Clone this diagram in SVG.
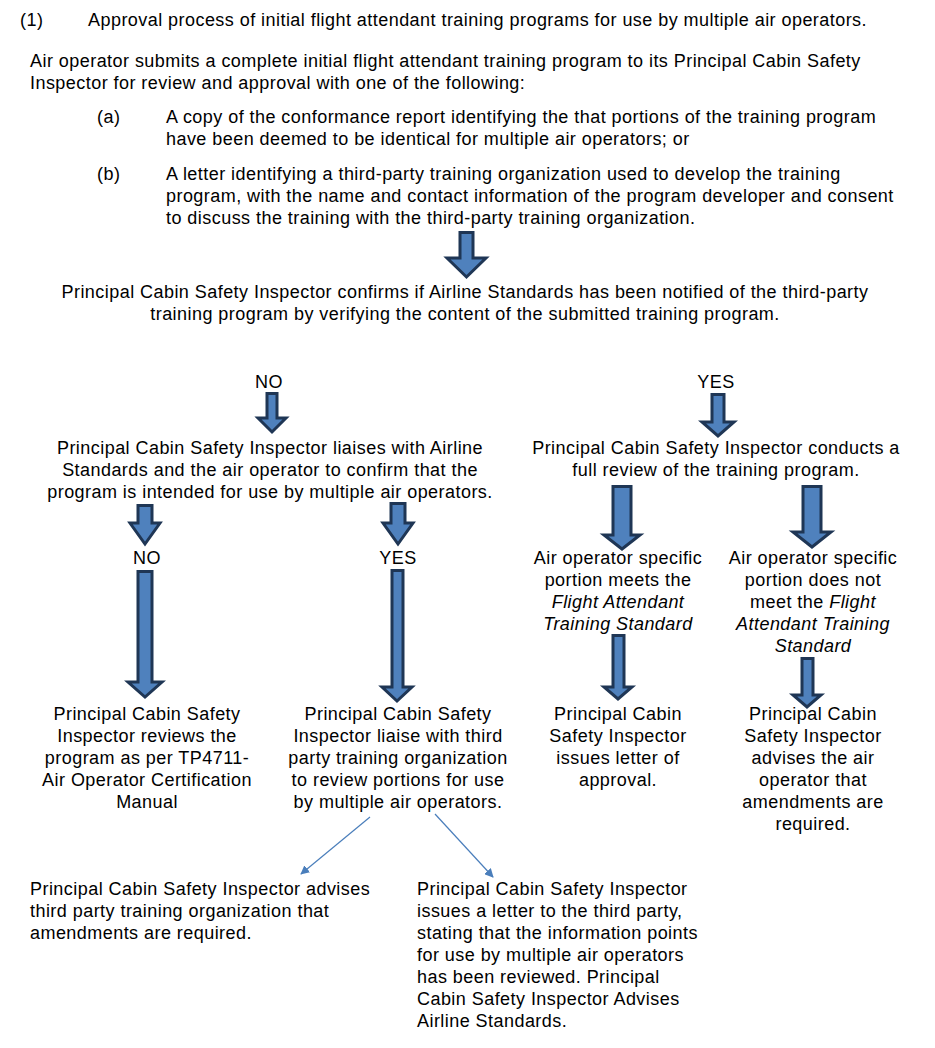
<svg xmlns="http://www.w3.org/2000/svg" width="935" height="1048" viewBox="0 0 935 1048">
<defs>
<style>
text{font-family:"Liberation Sans",Arial,sans-serif;font-size:18px;letter-spacing:0.45px;fill:#000}
.c{text-anchor:middle}
.i{font-style:italic}
.blk{fill:#4F81BD;stroke:#1F3655;stroke-width:3;stroke-linejoin:miter}
.thin{stroke:#4A7EBB;stroke-width:1.2;fill:none}
</style>
<marker id="ah" viewBox="0 0 10 10" refX="9" refY="5" markerWidth="9" markerHeight="9" orient="auto" markerUnits="userSpaceOnUse">
<path d="M0,0 L10,5 L0,10 z" fill="#4A7EBB"/>
</marker>
</defs>
<rect width="935" height="1048" fill="#fff"/>

<g id="header">
<text x="20" y="26">(1)</text>
<text x="88" y="26">Approval process of initial flight attendant training programs for use by multiple air operators.</text>
<text x="30" y="67">Air operator submits a complete initial flight attendant training program to its Principal Cabin Safety</text>
<text x="30" y="89">Inspector for review and approval with one of the following:</text>
<text x="97" y="123">(a)</text>
<text x="166" y="123">A copy of the conformance report identifying the that portions of the training program</text>
<text x="166" y="145">have been deemed to be identical for multiple air operators; or</text>
<text x="97" y="180">(b)</text>
<text x="166" y="180">A letter identifying a third-party training organization used to develop the training</text>
<text x="166" y="202">program, with the name and contact information of the program developer and consent</text>
<text x="166" y="224">to discuss the training with the third-party training organization.</text>
</g>

<g id="confirm">
<text class="c" x="465" y="298">Principal Cabin Safety Inspector confirms if Airline Standards has been notified of the third-party</text>
<text class="c" x="465" y="320">training program by verifying the content of the submitted training program.</text>
</g>

<g id="label-no-1"><text class="c" x="269" y="388">NO</text></g>
<g id="label-yes-1"><text class="c" x="716" y="388">YES</text></g>

<g id="liaise">
<text class="c" x="270" y="454">Principal Cabin Safety Inspector liaises with Airline</text>
<text class="c" x="270" y="476">Standards and the air operator to confirm that the</text>
<text class="c" x="270" y="498">program is intended for use by multiple air operators.</text>
</g>

<g id="full-review">
<text class="c" x="716" y="454">Principal Cabin Safety Inspector conducts a</text>
<text class="c" x="716" y="476">full review of the training program.</text>
</g>

<g id="label-no-2"><text class="c" x="147" y="564">NO</text></g>
<g id="label-yes-2"><text class="c" x="398" y="564">YES</text></g>

<g id="meets">
<text class="c" x="618" y="564">Air operator specific</text>
<text class="c" x="618" y="586">portion meets the</text>
<text class="c i" x="618" y="608">Flight Attendant</text>
<text class="c i" x="618" y="630">Training Standard</text>
</g>

<g id="not-meet">
<text class="c" x="813" y="564">Air operator specific</text>
<text class="c" x="813" y="586">portion does not</text>
<text class="c" x="813" y="608">meet the <tspan class="i">Flight</tspan></text>
<text class="c i" x="813" y="630">Attendant Training</text>
<text class="c i" x="813" y="652">Standard</text>
</g>

<g id="reviews-tp4711">
<text class="c" x="147" y="720">Principal Cabin Safety</text>
<text class="c" x="147" y="742">Inspector reviews the</text>
<text class="c" x="147" y="764">program as per TP4711-</text>
<text class="c" x="147" y="786">Air Operator Certification</text>
<text class="c" x="147" y="808">Manual</text>
</g>

<g id="liaise-third">
<text class="c" x="398" y="720">Principal Cabin Safety</text>
<text class="c" x="398" y="742">Inspector liaise with third</text>
<text class="c" x="398" y="764">party training organization</text>
<text class="c" x="398" y="786">to review portions for use</text>
<text class="c" x="398" y="808">by multiple air operators.</text>
</g>

<g id="approval">
<text class="c" x="618" y="720">Principal Cabin</text>
<text class="c" x="618" y="742">Safety Inspector</text>
<text class="c" x="618" y="764">issues letter of</text>
<text class="c" x="618" y="786">approval.</text>
</g>

<g id="amend-operator">
<text class="c" x="813" y="720">Principal Cabin</text>
<text class="c" x="813" y="742">Safety Inspector</text>
<text class="c" x="813" y="764">advises the air</text>
<text class="c" x="813" y="786">operator that</text>
<text class="c" x="813" y="808">amendments are</text>
<text class="c" x="813" y="830">required.</text>
</g>

<g id="amend-third">
<text x="30" y="895">Principal Cabin Safety Inspector advises</text>
<text x="30" y="917">third party training organization that</text>
<text x="30" y="939">amendments are required.</text>
</g>

<g id="letter-third">
<text x="417" y="895">Principal Cabin Safety Inspector</text>
<text x="417" y="917">issues a letter to the third party,</text>
<text x="417" y="939">stating that the information points</text>
<text x="417" y="961">for use by multiple air operators</text>
<text x="417" y="983">has been reviewed. Principal</text>
<text x="417" y="1005">Cabin Safety Inspector Advises</text>
<text x="417" y="1027">Airline Standards.</text>
</g>

<g id="connectors">
<polygon class="blk" points="460,232.5 473,232.5 473,258 486,258 466.5,277 447,258 460,258"/>
<polygon class="blk" points="267,393.5 277,393.5 277,418 286,418 272,432 258,418 267,418"/>
<polygon class="blk" points="712,394.5 724,394.5 724,422 734,422 718,436 702,422 712,422"/>
<polygon class="blk" points="138,505.5 152,505.5 152,523 160,523 145,544 130,523 138,523"/>
<polygon class="blk" points="138,571.5 152,571.5 152,682 162,682 145,697 128,682 138,682"/>
<polygon class="blk" points="391,503.5 405,503.5 405,523 413,523 398,544 383,523 391,523"/>
<polygon class="blk" points="392,570.5 403,570.5 403,687 412,687 397,701 382,687 392,687"/>
<polygon class="blk" points="613,486.5 631,486.5 631,535 640,535 622,549 604,535 613,535"/>
<polygon class="blk" points="803,486.5 821,486.5 821,532 831,532 812,547 793,532 803,532"/>
<polygon class="blk" points="613,635.5 624,635.5 624,687 632,687 618,699 604,687 613,687"/>
<polygon class="blk" points="802,658.5 813,658.5 813,695 821,695 807,707 793,695 802,695"/>
<line class="thin" x1="370" y1="817" x2="301" y2="874" marker-end="url(#ah)"/>
<line class="thin" x1="435" y1="814" x2="493" y2="877" marker-end="url(#ah)"/>
</g>
</svg>
